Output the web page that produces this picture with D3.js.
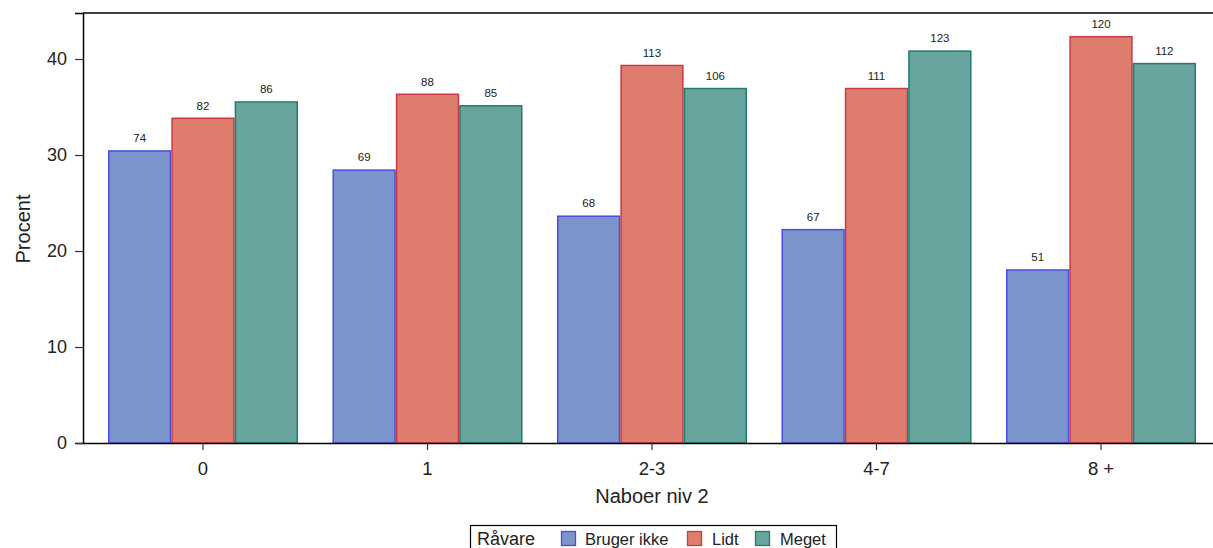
<!DOCTYPE html>
<html>
<head>
<meta charset="utf-8">
<script src="https://cdn.jsdelivr.net/npm/d3@7"></script>
<style>
  html, body { margin: 0; padding: 0; background: #fff; overflow: hidden; }
  svg { display: block; font-family: Arial, "Liberation Sans", sans-serif; }
</style>
</head>
<body>
<svg id="chart" width="1213" height="548"></svg>
<script>
const categories = ["0", "1", "2-3", "4-7", "8 +"];
const seriesNames = ["Bruger ikke", "Lidt", "Meget"];
const pctBrugerIkke = [30.5, 28.5, 23.7, 22.3, 18.1];
const pctLidt = [33.9, 36.4, 39.4, 37.0, 42.4];
const pctMeget = [35.6, 35.2, 37.0, 40.9, 39.6];
const nBrugerIkke = [74, 69, 68, 67, 51];
const nLidt = [82, 88, 113, 111, 120];
const nMeget = [86, 85, 106, 123, 112];
const yTicks = [0, 10, 20, 30, 40];
const legendTitle = "Råvare";
const xTitle = "Naboer niv 2";
const yTitle = "Procent";

const fills = ["#7b94cb", "#de7d6e", "#67a59e"];
const strokes = ["#4b4be3", "#c93a44", "#1f7c70"];

const series = [
  { name: seriesNames[0], pct: pctBrugerIkke, n: nBrugerIkke },
  { name: seriesNames[1], pct: pctLidt, n: nLidt },
  { name: seriesNames[2], pct: pctMeget, n: nMeget }
];

const svg = d3.select("#chart");
const plotL = 83, plotR = 1221, plotT = 13, plotB = 443;
const FONT = "Arial, 'Liberation Sans', sans-serif";

const x0 = d3.scaleBand().domain(categories).range([plotL, plotR]).paddingInner(0).paddingOuter(0.0345);
const x1 = d3.scaleBand().domain(seriesNames).range([0, x0.bandwidth()]).paddingInner(0).paddingOuter(0.272);
const y = d3.scaleLinear().domain([0, 44.79]).range([plotB, plotT]);

// bars
const groups = svg.append("g").selectAll("g").data(categories).join("g")
  .attr("transform", c => `translate(${x0(c)},0)`);

groups.each(function(c, ci) {
  const g = d3.select(this);
  series.forEach((s, si) => {
    const bx = x1(s.name), bw = x1.bandwidth();
    g.append("rect")
      .attr("x", bx + 0.75).attr("y", y(s.pct[ci]) + 0.75)
      .attr("width", bw - 1.5).attr("height", y(0) - y(s.pct[ci]) - 0.75)
      .attr("fill", fills[si]).attr("stroke", strokes[si]).attr("stroke-width", 1.5);
    g.append("text")
      .attr("x", bx + bw / 2).attr("y", y(s.pct[ci]) - 8)
      .attr("text-anchor", "middle").attr("font-size", 11.5).attr("fill", "#222")
      .text(s.n[ci]);
  });
});

// frame
svg.append("line").attr("x1", plotL).attr("x2", 1213).attr("y1", plotT).attr("y2", plotT).attr("stroke", "#000").attr("stroke-width", 1.5);

// y axis
const yAxis = d3.axisLeft(y).tickValues(yTicks).tickSize(8).tickPadding(8).tickFormat(d3.format("d"));
const ya = svg.append("g").attr("transform", `translate(${plotL},0)`).call(yAxis);
ya.select(".domain").attr("stroke", "#000").attr("stroke-width", 1.5);
ya.selectAll(".tick line").attr("stroke", "#333").attr("stroke-width", 1.2);
ya.selectAll(".tick text").attr("font-size", 18).attr("fill", "#222").attr("font-family", FONT);

// x axis
const xAxis = d3.axisBottom(x0).tickSize(7).tickPadding(12).tickSizeOuter(0);
const xa = svg.append("g").attr("transform", `translate(0,${plotB})`).call(xAxis);
xa.select(".domain").attr("stroke", "#000").attr("stroke-width", 1.5);
xa.selectAll(".tick line").attr("stroke", "#333").attr("stroke-width", 1.2);
xa.selectAll(".tick text").attr("font-size", 18.5).attr("fill", "#222").attr("font-family", FONT);

// titles
svg.append("text").attr("x", 652).attr("y", 503).attr("text-anchor", "middle")
  .attr("font-size", 20).attr("fill", "#222").text(xTitle);
svg.append("text").attr("transform", "translate(30,229) rotate(-90)").attr("text-anchor", "middle")
  .attr("font-size", 20).attr("fill", "#222").text(yTitle);

// legend
const lg = svg.append("g");
lg.append("rect").attr("x", 470.5).attr("y", 525.5).attr("width", 366).attr("height", 40)
  .attr("fill", "#fff").attr("stroke", "#000").attr("stroke-width", 1.2);
lg.append("text").attr("x", 477).attr("y", 545).attr("font-size", 18).attr("fill", "#222").text(legendTitle);
const legX = [561, 687, 755];
const legTX = [585, 712, 780];
series.forEach((s, si) => {
  lg.append("rect").attr("x", legX[si] + 0.5).attr("y", 531.5).attr("width", 14).attr("height", 14)
    .attr("fill", fills[si]).attr("stroke", strokes[si]).attr("stroke-width", 1.3);
  lg.append("text").attr("x", legTX[si]).attr("y", 545).attr("font-size", 16.5).attr("fill", "#222").text(s.name);
});
</script>
</body>
</html>
